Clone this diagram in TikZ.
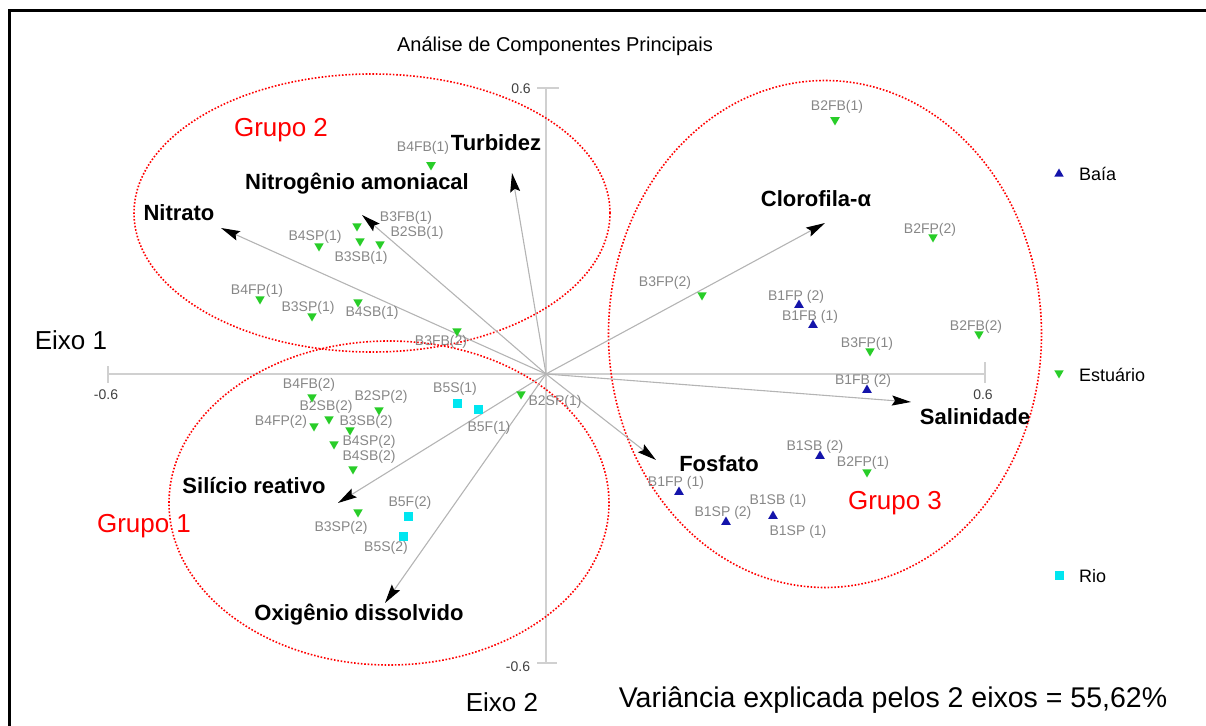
\documentclass[tikz,border=0pt]{standalone}
\usepackage{fontspec}
\setmainfont{Liberation Sans}
\usetikzlibrary{arrows.meta,shapes.geometric}
\definecolor{axisgray}{RGB}{208,208,208}
\definecolor{vecgray}{RGB}{180,180,180}
\definecolor{lblgray}{RGB}{135,135,135}
\definecolor{estgreen}{RGB}{40,205,40}
\definecolor{baiablue}{RGB}{20,20,170}
\definecolor{riocyan}{RGB}{0,230,240}
\tikzset{
 lbl/.style={font=\fontsize{14bp}{16bp}\selectfont, text=lblgray, inner sep=0pt},
 var/.style={font=\bfseries\fontsize{22bp}{26bp}\selectfont, inner sep=0pt},
 grp/.style={font=\fontsize{26bp}{30bp}\selectfont, text=red, inner sep=0pt},
 vec/.style={draw=vecgray, line width=1.1bp, -{Stealth[length=19bp,width=10bp,inset=3bp,color=black]}},
 est/.style={regular polygon, regular polygon sides=3, shape border rotate=180, fill=estgreen, minimum size=11bp, inner sep=0pt},
 baia/.style={regular polygon, regular polygon sides=3, fill=baiablue, minimum size=11bp, inner sep=0pt},
 rio/.style={rectangle, fill=riocyan, minimum size=9bp, inner sep=0pt},
 grpell/.style={ellipse, draw=red, line width=1.6bp, dash pattern=on 1.6bp off 1.8bp, inner sep=0pt},
 axisline/.style={draw=axisgray, line width=1.5bp},
 ticklbl/.style={font=\fontsize{14bp}{16bp}\selectfont, text=black!75, inner sep=0pt},
 plain/.style={inner sep=0pt},
}
\begin{document}
\begin{tikzpicture}[x=1bp,y=-1bp]
\useasboundingbox (0,0) rectangle (1206,726);
% frame
\draw[line width=3bp] (9,726) -- (9,11) -- (1206,11);
% title
\node[plain, font=\fontsize{20bp}{24bp}\selectfont] (title) at (555,46) {Análise de Componentes Principais};
% axes
\coordinate (o) at (546,374);
\coordinate (xl) at (108,374);
\coordinate (xr) at (985,374);
\coordinate (yt) at (546,88);
\coordinate (yb) at (546,663);
\draw[axisline] (xl) -- (xr);
\draw[axisline] (yt) -- (yb);
\draw[axisline] (108,366) -- (108,383);
\draw[axisline] (985,362) -- (985,383);
\draw[axisline] (537,88) -- (559,88);
\draw[axisline] (537,663) -- (557,663);
\node[ticklbl] (tyt) at (521,89) {0.6};
\node[ticklbl] (tyb) at (518,667) {-0.6};
\node[ticklbl] (txl) at (106,395) {-0.6};
\node[ticklbl] (txr) at (983,395) {0.6};
\node[plain, font=\fontsize{26bp}{30bp}\selectfont] (eixo1) at (71,340) {Eixo 1};
\node[plain, font=\fontsize{26bp}{30bp}\selectfont] (eixo2) at (502,702) {Eixo 2};
\node[plain, font=\fontsize{28.5bp}{32bp}\selectfont] (var) at (893,700) {Variância explicada pelos 2 eixos = 55,62\%};
% group ellipses
\node[grpell, minimum width=476bp, minimum height=278bp] (g2) at (372,213) {};
\node[grpell, minimum width=440bp, minimum height=324bp] (g1) at (389,503) {};
\node[grpell, minimum width=433bp, minimum height=507bp] (g3) at (825,334) {};
\node[grp] (g2l) at (281,130) {Grupo 2};
\node[grp] (g1l) at (144,526) {Grupo 1};
\node[grp] (g3l) at (895,503) {Grupo 3};
% vectors
\coordinate (tTurb) at (512,173);
\coordinate (tNam) at (362,215);
\coordinate (tNit) at (221,228);
\coordinate (tClo) at (825,223);
\coordinate (tSal) at (911,402);
\coordinate (tFos) at (656,460);
\coordinate (tSil) at (338,503);
\coordinate (tOxi) at (385,603);
\draw[vec] (o) -- (tTurb);
\draw[vec] (o) -- (tNam);
\draw[vec] (o) -- (tNit);
\draw[vec] (o) -- (tClo);
\draw[vec] (o) -- (tSal);
\draw[vec] (o) -- (tFos);
\draw[vec] (o) -- (tSil);
\draw[vec] (o) -- (tOxi);
\node[var] (lTurb) at (496,143) {Turbidez};
\node[var] (lNam) at (357,184) {Nitrogênio amoniacal};
\node[var] (lNit) at (179,213) {Nitrato};
\node[var] (lClo) at (816,199) {Clorofila-α};
\node[var] (lSal) at (975,417) {Salinidade};
\node[var] (lFos) at (719,464) {Fosfato};
\node[var] (lSil) at (254,486) {Silício reativo};
\node[var] (lOxi) at (359,615) {Oxigênio dissolvido};
% point labels
\node[lbl] (a1) at (423,148) {B4FB(1)};
\node[lbl] (a2) at (406,218) {B3FB(1)};
\node[lbl] (a3) at (417,233) {B2SB(1)};
\node[lbl] (a4) at (315,237) {B4SP(1)};
\node[lbl] (a5) at (361,258) {B3SB(1)};
\node[lbl] (a6) at (257,291) {B4FP(1)};
\node[lbl] (a7) at (308,308) {B3SP(1)};
\node[lbl] (a8) at (372,313) {B4SB(1)};
\node[lbl] (a9) at (441,342) {B3FB(2)};
\node[lbl] (a10) at (309,385) {B4FB(2)};
\node[lbl] (a11) at (381,397) {B2SP(2)};
\node[lbl] (a12) at (326,407) {B2SB(2)};
\node[lbl] (a13) at (281,422) {B4FP(2)};
\node[lbl] (a14) at (366,422) {B3SB(2)};
\node[lbl] (a15) at (369,442) {B4SP(2)};
\node[lbl] (a16) at (369,457) {B4SB(2)};
\node[lbl] (a17) at (341,528) {B3SP(2)};
\node[lbl] (a18) at (555,402) {B2SP(1)};
\node[lbl] (a19) at (837,107) {B2FB(1)};
\node[lbl] (a20) at (930,230) {B2FP(2)};
\node[lbl] (a21) at (665,283) {B3FP(2)};
\node[lbl] (a22) at (976,327) {B2FB(2)};
\node[lbl] (a23) at (867,344) {B3FP(1)};
\node[lbl] (a24) at (863,463) {B2FP(1)};
\node[lbl] (b1) at (796,297) {B1FP (2)};
\node[lbl] (b2) at (810,317) {B1FB (1)};
\node[lbl] (b3) at (863,381) {B1FB (2)};
\node[lbl] (b4) at (815,447) {B1SB (2)};
\node[lbl] (b5) at (676,483) {B1FP (1)};
\node[lbl] (b6) at (778,501) {B1SB (1)};
\node[lbl] (b7) at (723,513) {B1SP (2)};
\node[lbl] (b8) at (798,532) {B1SP (1)};
\node[lbl] (c1) at (455,389) {B5S(1)};
\node[lbl] (c2) at (489,428) {B5F(1)};
\node[lbl] (c3) at (410,503) {B5F(2)};
\node[lbl] (c4) at (386,548) {B5S(2)};
% markers
\node[est] (ma1) at (431,165) {};
\node[est] (ma2) at (357,226) {};
\node[est] (ma3) at (380,244) {};
\node[est] (ma4) at (319,246) {};
\node[est] (ma5) at (360,241) {};
\node[est] (ma6) at (260,299) {};
\node[est] (ma7) at (312,316) {};
\node[est] (ma8) at (358,302) {};
\node[est] (ma9) at (457,331) {};
\node[est] (ma10) at (312,397) {};
\node[est] (ma11) at (379,410) {};
\node[est] (ma12) at (329,419) {};
\node[est] (ma13) at (314,426) {};
\node[est] (ma14) at (350,430) {};
\node[est] (ma15) at (334,444) {};
\node[est] (ma16) at (353,469) {};
\node[est] (ma17) at (358,512) {};
\node[est] (ma18) at (521,394) {};
\node[est] (ma19) at (835,120) {};
\node[est] (ma20) at (933,237) {};
\node[est] (ma21) at (702,295) {};
\node[est] (ma22) at (979,334) {};
\node[est] (ma23) at (870,351) {};
\node[est] (ma24) at (867,472) {};
\node[baia] (mb1) at (799,305) {};
\node[baia] (mb2) at (813,325) {};
\node[baia] (mb3) at (867,390) {};
\node[baia] (mb4) at (820,456) {};
\node[baia] (mb5) at (679,492) {};
\node[baia] (mb6) at (773,516) {};
\node[baia] (mb7) at (726,522) {};
\node[rio] (mc1) at (457,403) {};
\node[rio] (mc2) at (478,409) {};
\node[rio] (mc3) at (408,516) {};
\node[rio] (mc4) at (403,536) {};
% legend
\node[baia] (kb) at (1059,174) {};
\node[plain, anchor=west, font=\fontsize{18bp}{21bp}\selectfont] (kbt) at (1079,174) {Baía};
\node[est] (ke) at (1059,373) {};
\node[plain, anchor=west, font=\fontsize{18bp}{21bp}\selectfont] (ket) at (1079,375) {Estuário};
\node[rio] (kr) at (1059,575) {};
\node[plain, anchor=west, font=\fontsize{18bp}{21bp}\selectfont] (krt) at (1079,576) {Rio};
\end{tikzpicture}
\end{document}
